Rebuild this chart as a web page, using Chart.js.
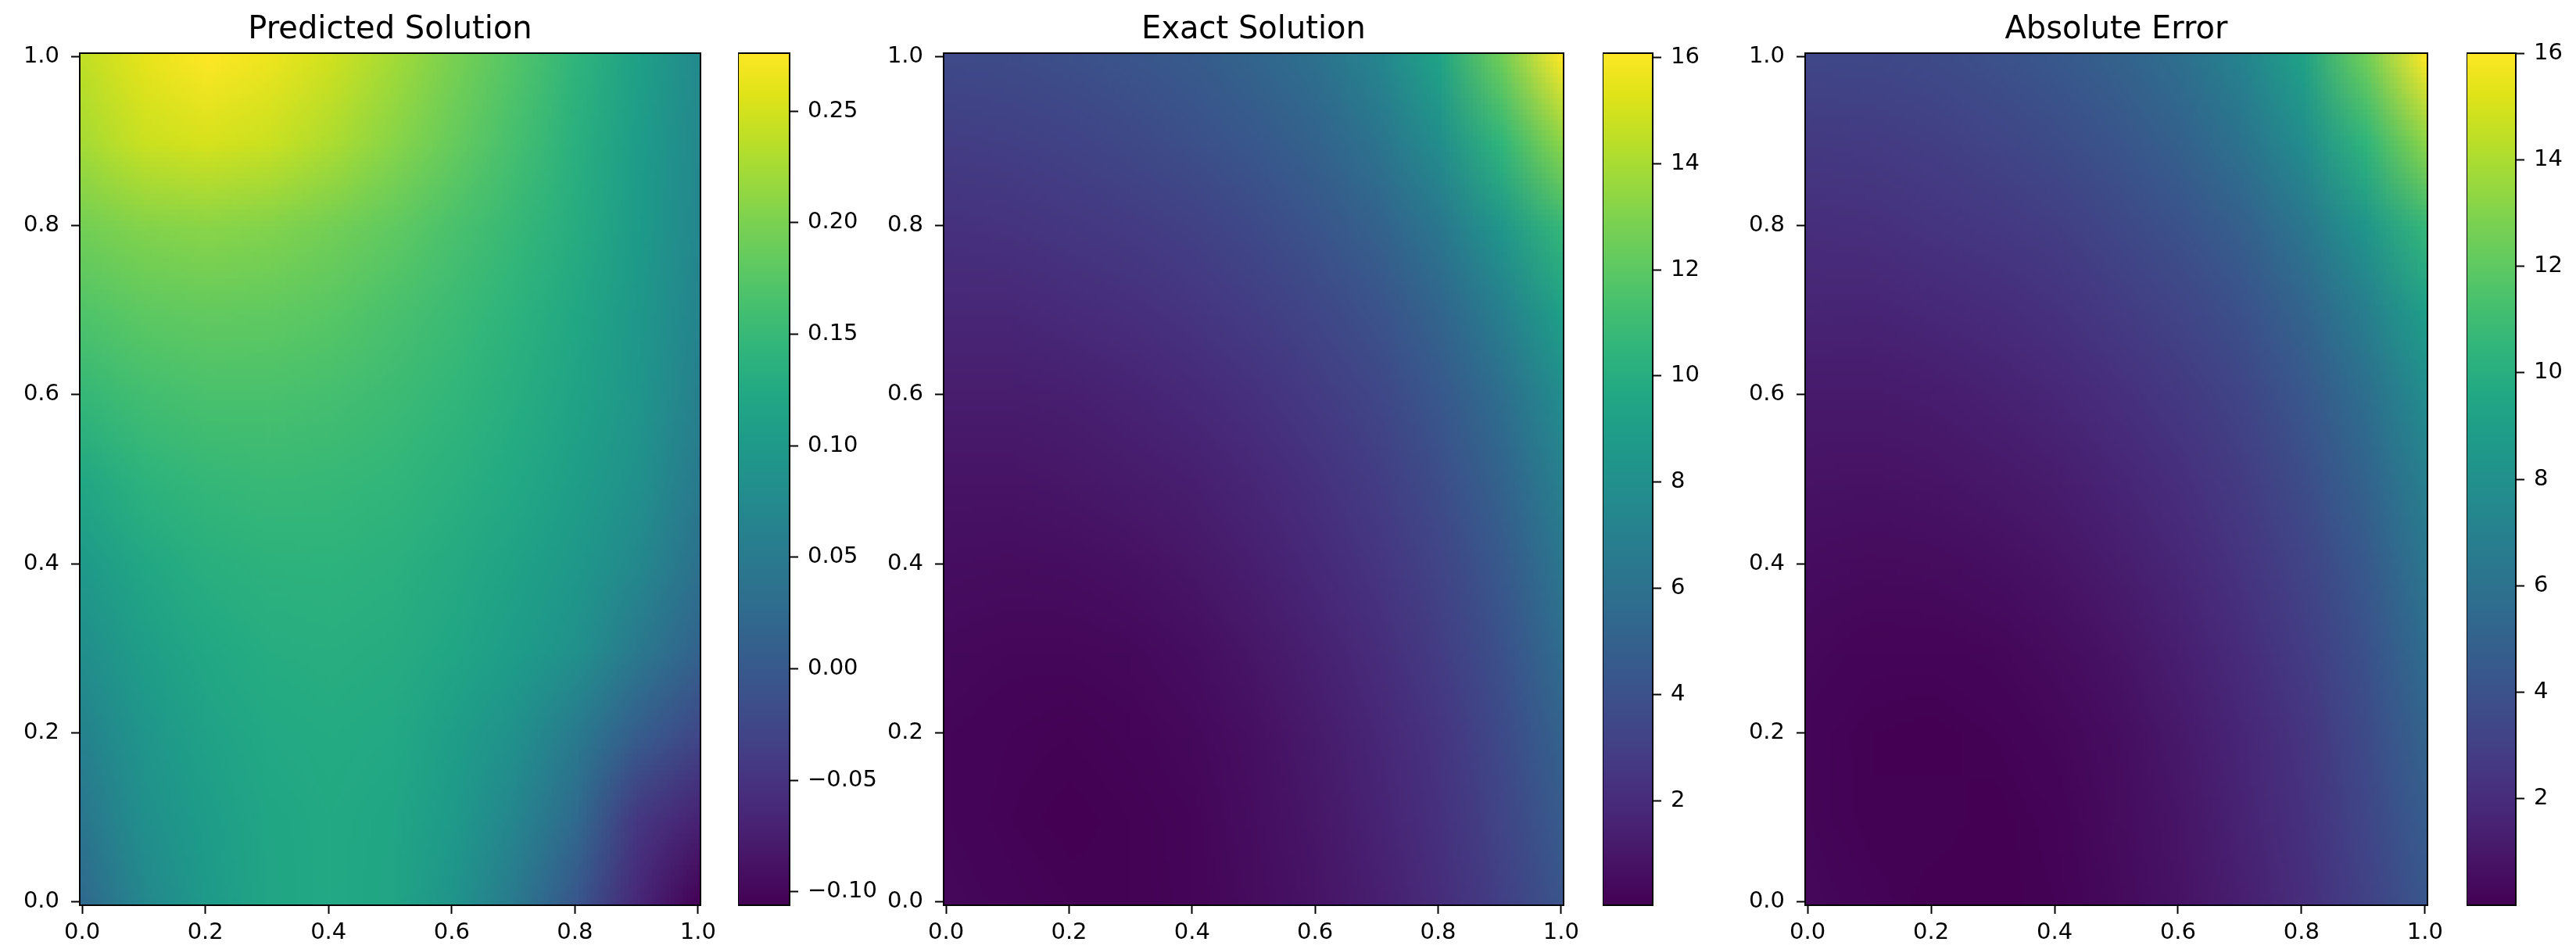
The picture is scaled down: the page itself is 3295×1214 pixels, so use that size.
<!DOCTYPE html>
<html>
<head>
<meta charset="utf-8">
<script src="https://cdn.jsdelivr.net/npm/chart.js@4.4.1/dist/chart.umd.min.js"></script>
<style>
body{margin:0;background:#fff;width:3295px;height:1214px;overflow:hidden;position:relative}
.box{position:absolute;top:0;height:1214px}
</style>
</head>
<body>
<div class="box" id="b1"><canvas id="p1"></canvas></div>
<div class="box" id="c1"><canvas id="cb1"></canvas></div>
<div class="box" id="b2"><canvas id="p2"></canvas></div>
<div class="box" id="c2"><canvas id="cb2"></canvas></div>
<div class="box" id="b3"><canvas id="p3"></canvas></div>
<div class="box" id="c3"><canvas id="cb3"></canvas></div>
<script>
// grid points, rows go top (y=1) to bottom (y=0)
const xs = [0.0, 0.1, 0.2, 0.3, 0.4, 0.5, 0.6, 0.7, 0.8, 0.9, 1.0]
const ys = [1.0, 0.9, 0.8, 0.7, 0.6, 0.5, 0.4, 0.3, 0.2, 0.1, 0.0]

const predicted = [
  [0.240, 0.262, 0.276, 0.266, 0.248, 0.224, 0.198, 0.172, 0.142, 0.110, 0.075],
  [0.225, 0.245, 0.252, 0.245, 0.229, 0.208, 0.186, 0.162, 0.135, 0.105, 0.072],
  [0.195, 0.205, 0.208, 0.204, 0.195, 0.182, 0.166, 0.150, 0.130, 0.102, 0.070],
  [0.170, 0.180, 0.184, 0.182, 0.176, 0.166, 0.154, 0.140, 0.122, 0.098, 0.066],
  [0.148, 0.160, 0.165, 0.165, 0.162, 0.155, 0.145, 0.132, 0.116, 0.093, 0.060],
  [0.122, 0.140, 0.148, 0.151, 0.150, 0.145, 0.136, 0.124, 0.108, 0.085, 0.050],
  [0.100, 0.122, 0.134, 0.139, 0.140, 0.136, 0.127, 0.114, 0.097, 0.072, 0.036],
  [0.082, 0.108, 0.123, 0.131, 0.133, 0.130, 0.120, 0.105, 0.085, 0.048, 0.015],
  [0.064, 0.094, 0.113, 0.124, 0.128, 0.124, 0.108, 0.085, 0.050, 0.005, -0.025],
  [0.045, 0.083, 0.106, 0.120, 0.125, 0.120, 0.100, 0.068, 0.025, -0.045, -0.070],
  [0.025, 0.072, 0.100, 0.118, 0.124, 0.118, 0.090, 0.048, -0.005, -0.065, -0.106]
]

const exact = [
  [3.60, 3.70, 3.90, 4.20, 4.60, 5.20, 6.00, 7.30, 9.30, 12.50, 16.08],
  [2.90, 3.00, 3.20, 3.50, 3.90, 4.40, 5.10, 6.20, 7.90, 10.50, 13.30],
  [2.30, 2.40, 2.60, 2.80, 3.10, 3.60, 4.20, 5.00, 6.40, 8.40, 10.70],
  [1.80, 1.80, 2.00, 2.20, 2.50, 2.90, 3.40, 4.10, 5.20, 6.90, 9.10],
  [1.30, 1.30, 1.40, 1.60, 1.90, 2.30, 2.80, 3.40, 4.40, 5.80, 7.80],
  [0.90, 0.90, 1.00, 1.20, 1.40, 1.80, 2.30, 2.90, 3.80, 5.10, 7.00],
  [0.60, 0.55, 0.60, 0.75, 1.00, 1.40, 1.90, 2.50, 3.30, 4.50, 6.30],
  [0.40, 0.30, 0.30, 0.40, 0.60, 1.00, 1.50, 2.10, 2.90, 4.00, 5.70],
  [0.25, 0.15, 0.10, 0.20, 0.40, 0.70, 1.20, 1.80, 2.50, 3.60, 5.10],
  [0.25, 0.12, 0.03, 0.10, 0.25, 0.60, 1.00, 1.60, 2.30, 3.30, 4.60],
  [0.35, 0.20, 0.10, 0.10, 0.20, 0.50, 0.90, 1.40, 2.10, 3.00, 4.20]
]

const absError = [
  [3.36, 3.44, 3.62, 3.93, 4.35, 4.98, 5.80, 7.13, 9.16, 12.39, 16.00],
  [2.68, 2.76, 2.95, 3.26, 3.67, 4.19, 4.91, 6.04, 7.77, 10.40, 13.23],
  [2.11, 2.20, 2.39, 2.60, 2.91, 3.42, 4.03, 4.85, 6.27, 8.30, 10.63],
  [1.63, 1.62, 1.82, 2.02, 2.32, 2.73, 3.25, 3.96, 5.08, 6.80, 9.03],
  [1.15, 1.14, 1.24, 1.44, 1.74, 2.15, 2.66, 3.27, 4.28, 5.71, 7.74],
  [0.78, 0.76, 0.85, 1.05, 1.25, 1.66, 2.16, 2.78, 3.69, 5.02, 6.95],
  [0.50, 0.43, 0.47, 0.61, 0.86, 1.26, 1.77, 2.39, 3.20, 4.43, 6.26],
  [0.32, 0.19, 0.18, 0.27, 0.47, 0.87, 1.38, 2.00, 2.82, 3.95, 5.69],
  [0.19, 0.06, 0.01, 0.08, 0.27, 0.58, 1.09, 1.72, 2.45, 3.59, 5.12],
  [0.20, 0.04, 0.08, 0.02, 0.13, 0.48, 0.90, 1.53, 2.27, 3.34, 4.67],
  [0.32, 0.13, 0.00, 0.02, 0.08, 0.38, 0.81, 1.35, 2.10, 3.06, 4.31]
]

const titles = ['Predicted Solution', 'Exact Solution', 'Absolute Error']
const axisTicks = [0.0, 0.2, 0.4, 0.6, 0.8, 1.0]
const predTicks = [-0.10, -0.05, 0.00, 0.05, 0.10, 0.15, 0.20, 0.25]
const exactTicks = [2, 4, 6, 8, 10, 12, 14, 16]
const errTicks = [2, 4, 6, 8, 10, 12, 14, 16]

// matplotlib viridis, 21 samples
const viridis = ['#440154', '#471365', '#482475', '#463480', '#414487', '#3b528b', '#355f8d',
  '#2f6c8e', '#2a788e', '#25848e', '#21918c', '#1e9c89', '#22a884', '#2fb47c', '#44bf70',
  '#5ec962', '#7ad151', '#9bd93c', '#bddf26', '#dfe318', '#fde725']

function hexRgb(h) {
  return [parseInt(h.slice(1, 3), 16), parseInt(h.slice(3, 5), 16), parseInt(h.slice(5, 7), 16)]
}
function cmap(t) {
  t = Math.min(1, Math.max(0, t))
  let f = t * (viridis.length - 1)
  let i = Math.min(Math.floor(f), viridis.length - 2)
  let r = f - i
  let a = hexRgb(viridis[i]), b = hexRgb(viridis[i + 1])
  return a.map((c, k) => Math.round(c + (b[k] - c) * r))
}

Chart.defaults.font.family = "'DejaVu Sans', sans-serif"
Chart.defaults.font.size = 29
Chart.defaults.color = '#000'

const yAxisW = 100
const padRight = 40
const cbLabelW = 140

// paints the grid values as an image placed with the chart scales
const heatPlugin = {
  id: 'heat',
  beforeDatasetsDraw(chart, args, opts) {
    const pts = chart.data.datasets[0].data
    const nx = xs.length, ny = ys.length
    const off = document.createElement('canvas')
    off.width = nx
    off.height = ny
    const octx = off.getContext('2d')
    const img = octx.createImageData(nx, ny)
    pts.forEach(p => {
      const c = cmap((p.v - opts.vmin) / (opts.vmax - opts.vmin))
      const k = (p.row * nx + p.col) * 4
      img.data[k] = c[0]; img.data[k + 1] = c[1]; img.data[k + 2] = c[2]; img.data[k + 3] = 255
    })
    octx.putImageData(img, 0, 0)
    const xsc = chart.scales.x, ysc = chart.scales.y
    const dx = xs[1] - xs[0], dy = ys[0] - ys[1]
    const l = xsc.getPixelForValue(xs[0] - dx / 2), r = xsc.getPixelForValue(xs[nx - 1] + dx / 2)
    const t = ysc.getPixelForValue(ys[0] + dy / 2), b = ysc.getPixelForValue(ys[ny - 1] - dy / 2)
    const ctx = chart.ctx, a = chart.chartArea
    ctx.save()
    ctx.beginPath()
    ctx.rect(a.left, a.top, a.right - a.left, a.bottom - a.top)
    ctx.clip()
    ctx.imageSmoothingEnabled = true
    ctx.imageSmoothingQuality = 'low'
    ctx.drawImage(off, l, t, r - l, b - t)
    ctx.restore()
  }
}

// colour ramp of the colorbar, stops placed through its y scale
const barPlugin = {
  id: 'cbar',
  beforeDatasetsDraw(chart) {
    const ysc = chart.scales.y, a = chart.chartArea, ctx = chart.ctx
    const g = ctx.createLinearGradient(0, ysc.getPixelForValue(ysc.min), 0, ysc.getPixelForValue(ysc.max))
    viridis.forEach((c, i) => g.addColorStop(i / (viridis.length - 1), c))
    ctx.save()
    ctx.fillStyle = g
    ctx.fillRect(a.left, a.top, a.right - a.left, a.bottom - a.top)
    ctx.restore()
  }
}

const framePlugin = {
  id: 'frame',
  afterDraw(chart) {
    const a = chart.chartArea, ctx = chart.ctx
    ctx.save()
    ctx.strokeStyle = '#000'
    ctx.lineWidth = 2
    ctx.strokeRect(a.left, a.top, a.right - a.left, a.bottom - a.top)
    ctx.restore()
  }
}

function tickGrid() {
  return {display: true, drawOnChartArea: false, drawTicks: true, tickLength: 11, tickWidth: 2, tickColor: '#000'}
}

function heatChart(canvasId, boxId, plotLeft, plotW, title, grid) {
  const box = document.getElementById(boxId)
  box.style.left = (plotLeft - yAxisW) + 'px'
  box.style.width = (yAxisW + plotW + padRight) + 'px'
  let pts = []
  grid.forEach((row, j) => row.forEach((v, i) => pts.push({x: xs[i], y: ys[j], v: v, col: i, row: j})))
  const flat = grid.flat()
  return new Chart(document.getElementById(canvasId), {
    type: 'scatter',
    data: {datasets: [{data: pts, pointRadius: 0, pointHoverRadius: 0}]},
    options: {
      responsive: true, maintainAspectRatio: false, devicePixelRatio: 1, animation: false,
      events: [],
      layout: {padding: {left: 0, right: padRight, top: 0, bottom: 0}},
      plugins: {
        legend: {display: false},
        tooltip: {enabled: false},
        title: {display: true, text: title, fullSize: false, color: '#000',
          font: {size: 40, weight: 'normal'}, padding: {top: 15, bottom: 5}},
        heat: {vmin: Math.min(...flat), vmax: Math.max(...flat)}
      },
      scales: {
        x: {
          type: 'linear', min: -0.004, max: 1.004,
          afterBuildTicks: s => { s.ticks = axisTicks.map(v => ({value: v})) },
          ticks: {callback: v => v.toFixed(1), padding: 7, maxRotation: 0, autoSkip: false},
          grid: tickGrid(), border: {display: false},
          afterFit: s => { s.height = 56; s.paddingLeft = 0; s.paddingRight = 0 }
        },
        y: {
          type: 'linear', min: -0.004, max: 1.004,
          afterBuildTicks: s => { s.ticks = axisTicks.map(v => ({value: v})) },
          ticks: {callback: v => v.toFixed(1), padding: 15, autoSkip: false},
          grid: tickGrid(), border: {display: false},
          afterFit: s => { s.width = yAxisW; s.paddingTop = 0; s.paddingBottom = 0 }
        }
      }
    },
    plugins: [heatPlugin, framePlugin]
  })
}

function colorBar(canvasId, boxId, left, w, grid, ticks, fmt) {
  const box = document.getElementById(boxId)
  box.style.left = left + 'px'
  box.style.width = (w + cbLabelW) + 'px'
  const flat = grid.flat()
  return new Chart(document.getElementById(canvasId), {
    type: 'scatter',
    data: {datasets: []},
    options: {
      responsive: true, maintainAspectRatio: false, devicePixelRatio: 1, animation: false,
      events: [],
      layout: {padding: {left: 0, right: 0, top: 68, bottom: 56}},
      plugins: {legend: {display: false}, tooltip: {enabled: false}},
      scales: {
        x: {type: 'linear', display: false, min: 0, max: 1},
        y: {
          type: 'linear', position: 'right', min: Math.min(...flat), max: Math.max(...flat),
          afterBuildTicks: s => { s.ticks = ticks.map(v => ({value: v})) },
          ticks: {callback: fmt, padding: 12, autoSkip: false},
          grid: tickGrid(), border: {display: false},
          afterFit: s => { s.width = cbLabelW; s.paddingTop = 0; s.paddingBottom = 0 }
        }
      }
    },
    plugins: [barPlugin, framePlugin]
  })
}

const fmtPred = v => (v < -1e-9 ? '\u2212' : '') + Math.abs(v).toFixed(2)
const fmtInt = v => String(Math.round(v))

heatChart('p1', 'b1', 102, 794, titles[0], predicted)
colorBar('cb1', 'c1', 944, 66, predicted, predTicks, fmtPred)
heatChart('p2', 'b2', 1207, 793, titles[1], exact)
colorBar('cb2', 'c2', 2050, 64, exact, exactTicks, fmtInt)
heatChart('p3', 'b3', 2309, 796, titles[2], absError)
colorBar('cb3', 'c3', 3155, 63, absError, errTicks, fmtInt)
</script>
</body>
</html>
